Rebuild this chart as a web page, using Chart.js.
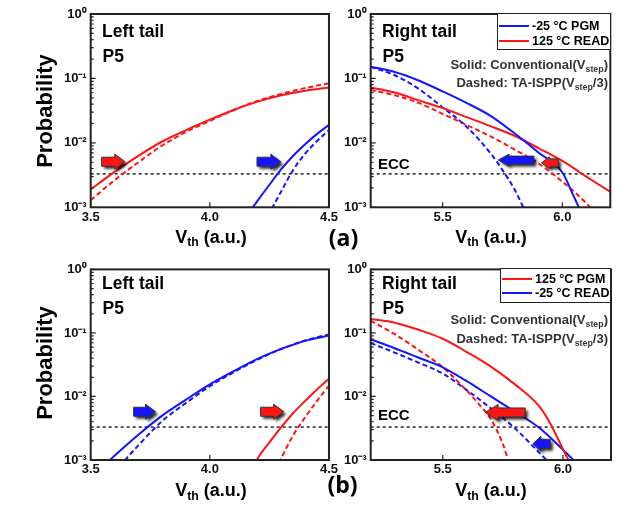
<!DOCTYPE html>
<html>
<head>
<meta charset="utf-8">
<script src="https://cdn.jsdelivr.net/npm/chart.js@4.4.0/dist/chart.umd.min.js"></script>
<style>
  body { margin: 0; background: #fff; }
  #page { position: relative; width: 628px; height: 514px; overflow: hidden; font-family: "Liberation Sans", Arial, sans-serif; font-weight: bold; color: #000; }
  .pane { position: absolute; }
  .t { position: absolute; white-space: nowrap; line-height: 1; font-weight: bold; }
  .sub { position: relative; top: 0.3em; font-size: 0.68em; }
  .note { font-size: 13px; color: #333; right: 20px; }
  .ptitle { font-size: 17.5px; }
  .xt { font-size: 18px; width: 130px; text-align: center; }
  .yt { font-size: 22px; width: 130px; height: 22px; text-align: center; transform: rotate(-90deg); }
  .lab { font-family: "Open Sans", "Noto Sans", sans-serif; font-weight: 700; font-size: 23px; width: 40px; text-align: center; }
  .legend { position: absolute; background: #fff; border: 1.5px solid #222; box-sizing: border-box; }
  .sw { position: absolute; left: 1px; width: 30px; height: 0; border-top: 2px solid; }
  .lt { position: absolute; left: 34px; font-size: 12.5px; line-height: 1; white-space: nowrap; }
</style>
</head>
<body>
<div id="page">
  <div class="pane" style="left:0;top:0"><canvas id="aLeft" width="340" height="257"></canvas></div>
  <div class="pane" style="left:335px;top:0"><canvas id="aRight" width="293" height="257"></canvas></div>
  <div class="pane" style="left:0;top:257px"><canvas id="bLeft" width="340" height="257"></canvas></div>
  <div class="pane" style="left:335px;top:257px"><canvas id="bRight" width="293" height="257"></canvas></div>

  <div class="t yt" style="left:-20px;top:100px">Probability</div>
  <div class="t yt" style="left:-20px;top:352px">Probability</div>

  <div class="t ptitle" style="left:102px;top:22.7px">Left tail</div>
  <div class="t ptitle" style="left:102.5px;top:47.7px">P5</div>
  <div class="t ptitle" style="left:382px;top:22.7px">Right tail</div>
  <div class="t ptitle" style="left:382.5px;top:47.7px">P5</div>
  <div class="t ptitle" style="left:102px;top:274.7px">Left tail</div>
  <div class="t ptitle" style="left:102.5px;top:299.7px">P5</div>
  <div class="t ptitle" style="left:382px;top:274.7px">Right tail</div>
  <div class="t ptitle" style="left:382.5px;top:299.7px">P5</div>

  <div class="t note" style="top:58.3px">Solid: Conventional(V<span class="sub">step</span>)</div>
  <div class="t note" style="top:76.3px">Dashed: TA-ISPP(V<span class="sub">step</span>/3)</div>
  <div class="t note" style="top:313.3px">Solid: Conventional(V<span class="sub">step</span>)</div>
  <div class="t note" style="top:332px">Dashed: TA-ISPP(V<span class="sub">step</span>/3)</div>

  <div class="t" style="left:378px;top:156px;font-size:15px">ECC</div>
  <div class="t" style="left:378px;top:406.7px;font-size:15px">ECC</div>

  <div class="t xt" style="left:146px;top:227.6px">V<span class="sub">th</span> (a.u.)</div>
  <div class="t xt" style="left:426px;top:227.6px">V<span class="sub">th</span> (a.u.)</div>
  <div class="t xt" style="left:146px;top:481.3px">V<span class="sub">th</span> (a.u.)</div>
  <div class="t xt" style="left:426px;top:481.3px">V<span class="sub">th</span> (a.u.)</div>

  <div class="t lab" style="left:323.5px;top:226px">(a)</div>
  <div class="t lab" style="left:322.5px;top:473px">(b)</div>

  <div class="legend" style="left:497px;top:13px;width:114px;height:37px">
    <div class="sw" style="top:11px;border-color:rgb(20,20,255)"></div>
    <div class="lt" style="top:6px">-25 °C PGM</div>
    <div class="sw" style="top:26px;border-color:rgb(255,20,20)"></div>
    <div class="lt" style="top:21px">125 °C READ</div>
  </div>
  <div class="legend" style="left:500px;top:268px;width:111px;height:35px">
    <div class="sw" style="top:9px;border-color:rgb(255,20,20)"></div>
    <div class="lt" style="top:4px">125 °C PGM</div>
    <div class="sw" style="top:23px;border-color:rgb(20,20,255)"></div>
    <div class="lt" style="top:18px">-25 °C READ</div>
  </div>
</div>

<script>
const leftXTicks = [3.5, 4.0, 4.5];
const rightXTicks = [5.5, 6.0];
const yTicks = [1e-3, 1e-2, 1e-1, 1];
const eccLevel = 3.3e-3;

// (a) left tail
const aLeftRedX = [3.5, 3.6, 3.7, 3.8, 3.9, 4.0, 4.1, 4.2, 4.3, 4.4, 4.5];
const aLeftRedSolid = [1.9e-3, 3.55e-3, 6.3e-3, 1.05e-2, 1.58e-2, 2.29e-2, 3.24e-2, 4.37e-2, 5.5e-2, 6.46e-2, 7.24e-2];
const aLeftRedDashed = [1.29e-3, 2.63e-3, 5.0e-3, 9.1e-3, 1.48e-2, 2.19e-2, 3.24e-2, 4.47e-2, 5.75e-2, 7.08e-2, 8.4e-2];
const aLeftBlueSolidX = [4.17, 4.2, 4.25, 4.3, 4.35, 4.4, 4.45, 4.5];
const aLeftBlueSolid = [8.9e-4, 1.26e-3, 2.24e-3, 3.9e-3, 6.3e-3, 9.5e-3, 1.38e-2, 1.9e-2];
const aLeftBlueDashedX = [4.26, 4.3, 4.35, 4.4, 4.45, 4.5];
const aLeftBlueDashed = [9.5e-4, 1.78e-3, 3.8e-3, 6.8e-3, 1.07e-2, 1.58e-2];

// (a) right tail
const aRightX = [5.2, 5.3, 5.4, 5.5, 5.6, 5.7, 5.8, 5.9, 6.0, 6.1, 6.2];
const aRightRedSolid = [0.0724, 0.0603, 0.0457, 0.0347, 0.0251, 0.0182, 0.0129, 8.3e-3, 5.25e-3, 3.0e-3, 1.74e-3];
const aRightBlueSolidX = [5.2, 5.3, 5.4, 5.5, 5.6, 5.7, 5.8, 5.9, 6.0, 6.05, 6.1];
const aRightBlueSolid = [0.152, 0.126, 0.093, 0.063, 0.0417, 0.0263, 0.0141, 7.1e-3, 3.47e-3, 1.41e-3, 5.6e-4];
const aRightRedDashedX = [5.2, 5.3, 5.4, 5.5, 5.6, 5.7, 5.8, 5.9, 6.0, 6.1, 6.15];
const aRightRedDashed = [0.066, 0.055, 0.0417, 0.0282, 0.019, 0.0126, 7.9e-3, 4.8e-3, 2.5e-3, 1.15e-3, 7.1e-4];
const aRightBlueDashedX = [5.2, 5.3, 5.4, 5.5, 5.6, 5.7, 5.75, 5.8, 5.85];
const aRightBlueDashed = [0.151, 0.112, 0.069, 0.0355, 0.0178, 6.9e-3, 3.8e-3, 1.9e-3, 7.9e-4];

// (b) left tail
const bLeftBlueSolidX = [3.56, 3.6, 3.7, 3.8, 3.9, 4.0, 4.1, 4.2, 4.3, 4.4, 4.5];
const bLeftBlueSolid = [8.5e-4, 1.17e-3, 2.5e-3, 5.0e-3, 8.9e-3, 1.55e-2, 2.5e-2, 3.9e-2, 5.6e-2, 7.5e-2, 9.1e-2];
const bLeftBlueDashedX = [3.62, 3.7, 3.8, 3.9, 4.0, 4.1, 4.2, 4.3, 4.4, 4.5];
const bLeftBlueDashed = [7.9e-4, 1.7e-3, 4.1e-3, 7.9e-3, 1.45e-2, 2.4e-2, 3.8e-2, 5.6e-2, 7.6e-2, 9.5e-2];
const bLeftRedSolidX = [4.19, 4.2, 4.25, 4.3, 4.35, 4.4, 4.45, 4.5];
const bLeftRedSolid = [8.9e-4, 1.05e-3, 1.9e-3, 3.3e-3, 5.5e-3, 8.5e-3, 1.29e-2, 1.9e-2];
const bLeftRedDashedX = [4.29, 4.3, 4.35, 4.4, 4.45, 4.5];
const bLeftRedDashed = [8.9e-4, 1.07e-3, 2.45e-3, 4.7e-3, 8.5e-3, 1.48e-2];

// (b) right tail
const bRightRedSolidX = [5.2, 5.3, 5.4, 5.5, 5.6, 5.7, 5.8, 5.9, 5.95, 6.0, 6.03];
const bRightRedSolid = [0.166, 0.145, 0.112, 0.081, 0.05, 0.0295, 0.0155, 7.1e-3, 3.6e-3, 1.48e-3, 8.9e-4];
const bRightBlueSolidX = [5.2, 5.3, 5.4, 5.5, 5.6, 5.7, 5.8, 5.9, 6.0, 6.06];
const bRightBlueSolid = [0.0794, 0.0575, 0.0407, 0.0288, 0.0174, 0.01, 5.75e-3, 3.24e-3, 1.45e-3, 8.7e-4];
const bRightRedDashedX = [5.2, 5.3, 5.4, 5.5, 5.6, 5.65, 5.7, 5.75, 5.78];
const bRightRedDashed = [0.155, 0.0955, 0.0537, 0.0288, 0.0123, 7.6e-3, 4.4e-3, 1.78e-3, 7.9e-4];
const bRightBlueDashedX = [5.2, 5.3, 5.4, 5.5, 5.6, 5.7, 5.8, 5.9, 5.95];
const bRightBlueDashed = [0.0692, 0.049, 0.0339, 0.0229, 0.0126, 6.5e-3, 3.16e-3, 1.32e-3, 8.5e-4];

// arrows: [from x, to x, y]
const aLeftArrows = [[3.546, 3.643, 5.1e-3, 'red'], [4.198, 4.298, 5.1e-3, 'blue']];
const aRightArrows = [[5.881, 5.732, 5.4e-3, 'blue'], [5.983, 5.913, 4.9e-3, 'red']];
const bLeftArrows = [[3.68, 3.772, 5.75e-3, 'blue'], [4.213, 4.31, 5.75e-3, 'red']];
const bRightArrows = [[5.843, 5.676, 5.6e-3, 'red'], [5.947, 5.875, 1.8e-3, 'blue']];

const RED = 'rgb(255,20,20)';
const BLUE = 'rgb(20,20,255)';

Chart.defaults.font.family = "'Liberation Sans', Arial, sans-serif";
Chart.defaults.font.weight = 'bold';
Chart.defaults.font.size = 13;
Chart.defaults.color = '#111';

function series(xs, ys, color, dashed) {
    return {
        data: xs.map((x, i) => ({ x: x, y: ys[i] })),
        borderColor: color,
        borderWidth: 2,
        borderDash: dashed ? [5, 3] : [],
        pointRadius: 0,
        fill: false,
        cubicInterpolationMode: 'monotone'
    };
}

function eccLine(xMin, xMax) {
    return {
        data: [{ x: xMin, y: eccLevel }, { x: xMax, y: eccLevel }],
        borderColor: '#222',
        borderWidth: 1.5,
        borderDash: [3, 3],
        pointRadius: 0
    };
}

const supers = { '-': '\u207B', '0': '\u2070', '1': '\u00B9', '2': '\u00B2', '3': '\u00B3' };
function decadeLabel(v) {
    const e = String(Math.round(Math.log10(v)));
    return '10' + e.split('').map(c => supers[c]).join('');
}

// frame and inward tick marks
const framePlugin = {
    id: 'frame',
    afterDraw(chart, args, opts) {
        const ctx = chart.ctx;
        const a = chart.chartArea;
        const xs = chart.scales.x, ys = chart.scales.y;
        ctx.save();
        ctx.strokeStyle = '#222';
        ctx.lineWidth = 1.2;
        ctx.beginPath();
        opts.xTicks.forEach(v => {
            const px = xs.getPixelForValue(v);
            ctx.moveTo(px, a.bottom);
            ctx.lineTo(px, a.bottom - 5);
        });
        for (let d = -3; d <= 0; d++) {
            for (let m = 1; m <= 9; m++) {
                const v = m * Math.pow(10, d);
                if (v > 1.0001) break;
                const py = ys.getPixelForValue(v);
                ctx.moveTo(a.left, py);
                ctx.lineTo(a.left + (m === 1 ? 5 : 3), py);
            }
        }
        ctx.stroke();
        ctx.lineWidth = 2;
        ctx.strokeRect(a.left, a.top, a.right - a.left, a.bottom - a.top);
        ctx.restore();
    }
};

// block arrows with a drop shadow
const arrowPlugin = {
    id: 'arrows',
    afterDatasetsDraw(chart, args, opts) {
        const ctx = chart.ctx;
        const xs = chart.scales.x, ys = chart.scales.y;
        opts.list.forEach((ar, i) => {
            const st = opts.style[i];
            const x0 = xs.getPixelForValue(ar[0]);
            const x1 = xs.getPixelForValue(ar[1]);
            const y = ys.getPixelForValue(ar[2]);
            const dir = x1 > x0 ? 1 : -1;
            const len = Math.abs(x1 - x0);
            const hl = st.head, hh = st.headH / 2, sh = st.shaftH / 2;
            ctx.save();
            ctx.translate(x0, y);
            ctx.scale(dir, 1);
            ctx.beginPath();
            ctx.moveTo(0, -sh);
            ctx.lineTo(len - hl, -sh);
            ctx.lineTo(len - hl, -hh);
            ctx.lineTo(len, 0);
            ctx.lineTo(len - hl, hh);
            ctx.lineTo(len - hl, sh);
            ctx.lineTo(0, sh);
            ctx.closePath();
            ctx.shadowColor = 'rgba(0,0,0,0.85)';
            ctx.shadowBlur = 3;
            ctx.shadowOffsetX = 2.5;
            ctx.shadowOffsetY = 2.5;
            ctx.fillStyle = ar[3] === 'red' ? RED : BLUE;
            ctx.fill();
            ctx.shadowColor = 'transparent';
            ctx.lineWidth = 1;
            ctx.strokeStyle = '#333';
            ctx.stroke();
            ctx.restore();
        });
    }
};

function makePanel(id, xMin, xMax, xTicks, box, datasets, arrows, arrowStyle) {
    const ctx = document.getElementById(id).getContext('2d');
    return new Chart(ctx, {
        type: 'line',
        data: { datasets: datasets },
        options: {
            responsive: false,
            animation: false,
            devicePixelRatio: 1,
            layout: { padding: { top: box.top, right: box.right, left: 0, bottom: 0 } },
            plugins: {
                legend: { display: false },
                tooltip: { enabled: false },
                frame: { xTicks: xTicks },
                arrows: { list: arrows, style: arrowStyle }
            },
            scales: {
                x: {
                    type: 'linear',
                    min: xMin,
                    max: xMax,
                    afterBuildTicks: s => { s.ticks = xTicks.map(v => ({ value: v })); },
                    afterFit: s => { s.height = box.xh; },
                    ticks: { padding: 2, callback: v => v.toFixed(1), autoSkip: false, maxRotation: 0 },
                    grid: { display: false, drawTicks: false },
                    border: { display: false }
                },
                y: {
                    type: 'logarithmic',
                    min: 1e-3,
                    max: 1,
                    afterBuildTicks: s => { s.ticks = yTicks.map(v => ({ value: v })); },
                    afterFit: s => { s.width = box.yw; },
                    ticks: { padding: 4, callback: v => decadeLabel(v), autoSkip: false },
                    grid: { display: false, drawTicks: false },
                    border: { display: false }
                }
            }
        },
        plugins: [framePlugin, arrowPlugin]
    });
}

const bigArrow = { head: 10, headH: 15, shaftH: 9 };

makePanel('aLeft', 3.5, 4.5, leftXTicks,
    { top: 14, right: 9.7, xh: 49.7, yw: 90.7 },
    [
        series(aLeftRedX, aLeftRedSolid, RED, false),
        series(aLeftRedX, aLeftRedDashed, RED, true),
        series(aLeftBlueSolidX, aLeftBlueSolid, BLUE, false),
        series(aLeftBlueDashedX, aLeftBlueDashed, BLUE, true),
        eccLine(3.5, 4.5)
    ],
    aLeftArrows, [bigArrow, bigArrow]);

makePanel('aRight', 5.2, 6.2, rightXTicks,
    { top: 14, right: 17.7, xh: 49.7, yw: 35.7 },
    [
        series(aRightBlueSolidX, aRightBlueSolid, BLUE, false),
        series(aRightX, aRightRedSolid, RED, false),
        series(aRightBlueDashedX, aRightBlueDashed, BLUE, true),
        series(aRightRedDashedX, aRightRedDashed, RED, true),
        eccLine(5.2, 6.2)
    ],
    aRightArrows, [{ head: 11, headH: 12, shaftH: 8 }, { head: 8, headH: 12, shaftH: 8 }]);

makePanel('bLeft', 3.5, 4.5, leftXTicks,
    { top: 12.4, right: 9.7, xh: 54, yw: 90.7 },
    [
        series(bLeftBlueSolidX, bLeftBlueSolid, BLUE, false),
        series(bLeftBlueDashedX, bLeftBlueDashed, BLUE, true),
        series(bLeftRedSolidX, bLeftRedSolid, RED, false),
        series(bLeftRedDashedX, bLeftRedDashed, RED, true),
        eccLine(3.5, 4.5)
    ],
    bLeftArrows, [bigArrow, bigArrow]);

makePanel('bRight', 5.2, 6.2, rightXTicks,
    { top: 12.4, right: 17, xh: 54, yw: 35.7 },
    [
        series(bRightRedSolidX, bRightRedSolid, RED, false),
        series(bRightBlueSolidX, bRightBlueSolid, BLUE, false),
        series(bRightRedDashedX, bRightRedDashed, RED, true),
        series(bRightBlueDashedX, bRightBlueDashed, BLUE, true),
        eccLine(5.2, 6.2)
    ],
    bRightArrows, [{ head: 13, headH: 16, shaftH: 9 }, { head: 8, headH: 15, shaftH: 9 }]);
</script>
</body>
</html>
